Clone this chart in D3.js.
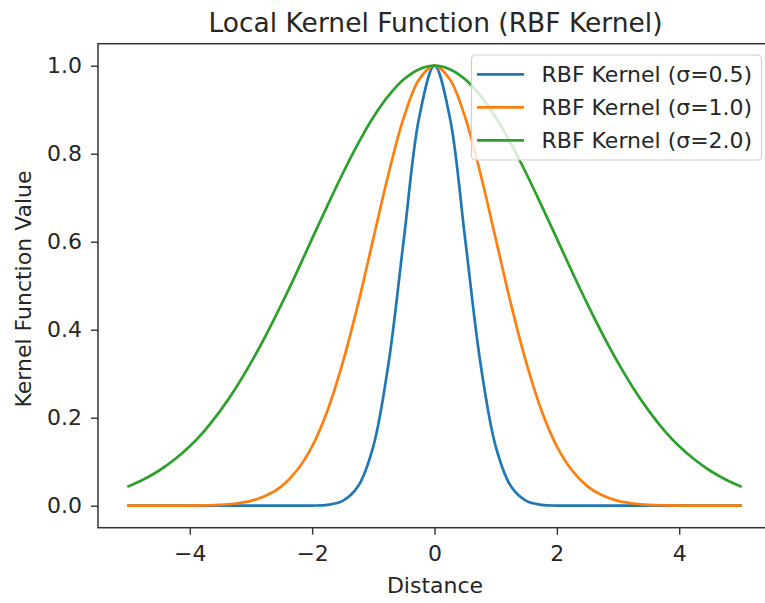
<!DOCTYPE html>
<html>
<head>
<meta charset="utf-8">
<script src="https://cdn.jsdelivr.net/npm/d3@7"></script>
<style>
  html, body { margin: 0; padding: 0; background: #fff; }
  svg { display: block; font-family: "DejaVu Sans", sans-serif; }
</style>
</head>
<body>
<svg id="chart" width="765" height="603"></svg>
<script>
// Sample positions (distance from centre)
const distance = [-5, -4.75, -4.5, -4.25, -4, -3.75, -3.5, -3.25, -3, -2.75, -2.5, -2.25, -2, -1.75, -1.5, -1.25, -1, -0.75, -0.5, -0.25,
  0, 0.25, 0.5, 0.75, 1, 1.25, 1.5, 1.75, 2, 2.25, 2.5, 2.75, 3, 3.25, 3.5, 3.75, 4, 4.25, 4.5, 4.75, 5];

// Kernel values for each bandwidth
const rbfSigma05 = [0, 0, 0, 0, 0, 0, 0, 0, 0, 0, 0, 0, 0.0003, 0.002, 0.011, 0.044, 0.135, 0.325, 0.607, 0.883,
  1, 0.883, 0.607, 0.325, 0.135, 0.044, 0.011, 0.002, 0.0003, 0, 0, 0, 0, 0, 0, 0, 0, 0, 0, 0, 0];
const rbfSigma10 = [0, 0, 0, 0.0001, 0.0003, 0.0009, 0.002, 0.005, 0.011, 0.023, 0.044, 0.080, 0.135, 0.216, 0.325, 0.458, 0.607, 0.755, 0.883, 0.969,
  1, 0.969, 0.883, 0.755, 0.607, 0.458, 0.325, 0.216, 0.135, 0.080, 0.044, 0.023, 0.011, 0.005, 0.002, 0.0009, 0.0003, 0.0001, 0, 0, 0];
const rbfSigma20 = [0.044, 0.060, 0.080, 0.105, 0.135, 0.172, 0.216, 0.267, 0.325, 0.389, 0.458, 0.531, 0.607, 0.682, 0.755, 0.823, 0.883, 0.932, 0.969, 0.992,
  1, 0.992, 0.969, 0.932, 0.883, 0.823, 0.755, 0.682, 0.607, 0.531, 0.458, 0.389, 0.325, 0.267, 0.216, 0.172, 0.135, 0.105, 0.080, 0.060, 0.044];

const seriesNames = ["RBF Kernel (σ=0.5)", "RBF Kernel (σ=1.0)", "RBF Kernel (σ=2.0)"];
const seriesValues = [rbfSigma05, rbfSigma10, rbfSigma20];
const seriesColors = ["#1f77b4", "#ff7f0e", "#2ca02c"];

const xTicks = [-4, -2, 0, 2, 4];
const yTicks = [0.0, 0.2, 0.4, 0.6, 0.8, 1.0];

const titleText = "Local Kernel Function (RBF Kernel)";
const xLabel = "Distance";
const yLabel = "Kernel Function Value";

// Layout
const plot = { left: 98, right: 771, top: 43.7, bottom: 527.7 };
const svg = d3.select("#chart");

const x = d3.scaleLinear().domain([-5.5, 5.5]).range([plot.left, plot.right]);
const y = d3.scaleLinear().domain([-0.05, 1.05]).range([plot.bottom, plot.top]);

svg.append("defs").append("clipPath").attr("id", "plot-clip")
  .append("rect")
  .attr("x", plot.left).attr("y", plot.top)
  .attr("width", plot.right - plot.left).attr("height", plot.bottom - plot.top);

// Curves
const line = d3.line()
  .x((d, i) => x(distance[i]))
  .y(d => y(d))
  .curve(d3.curveCatmullRom.alpha(0.5));

const lines = svg.append("g").attr("clip-path", "url(#plot-clip)");
seriesValues.forEach((vals, k) => {
  lines.append("path")
    .datum(vals)
    .attr("d", line)
    .attr("fill", "none")
    .attr("stroke", seriesColors[k])
    .attr("stroke-width", 2.7)
    .attr("stroke-linejoin", "round")
    .attr("stroke-linecap", "square");
});

// Axes
const fontSize = 22;
const textColor = "#262626";
const xAxis = svg.append("g")
  .attr("transform", `translate(0,${plot.bottom})`)
  .call(d3.axisBottom(x).tickValues(xTicks).tickSize(7).tickPadding(11)
    .tickFormat(d => d3.format("d")(d).replace("-", "\u2212")));
const yAxis = svg.append("g")
  .attr("transform", `translate(${plot.left},0)`)
  .call(d3.axisLeft(y).tickValues(yTicks).tickSize(7).tickPadding(9)
    .tickFormat(d3.format(".1f")));

[xAxis, yAxis].forEach(g => {
  g.select(".domain").remove();
  g.selectAll(".tick line").attr("stroke", "#333").attr("stroke-width", 1.4);
  g.selectAll(".tick text").attr("fill", textColor)
    .style("font-size", fontSize + "px")
    .style("font-family", "DejaVu Sans, sans-serif");
});

// Frame
svg.append("rect")
  .attr("x", plot.left).attr("y", plot.top)
  .attr("width", plot.right - plot.left).attr("height", plot.bottom - plot.top)
  .attr("fill", "none")
  .attr("stroke", "#333")
  .attr("stroke-width", 1.5);

// Title and axis labels
svg.append("text")
  .attr("x", 435.5)
  .attr("y", 32)
  .attr("text-anchor", "middle")
  .attr("fill", textColor)
  .style("font-size", "26.5px")
  .text(titleText);

svg.append("text")
  .attr("x", 435)
  .attr("y", 593)
  .attr("text-anchor", "middle")
  .attr("fill", textColor)
  .style("font-size", fontSize + "px")
  .text(xLabel);

svg.append("text")
  .attr("transform", `translate(31,289) rotate(-90)`)
  .attr("text-anchor", "middle")
  .attr("fill", textColor)
  .style("font-size", fontSize + "px")
  .text(yLabel);

// Legend
const legend = svg.append("g");
legend.append("rect")
  .attr("x", 471.5).attr("y", 55)
  .attr("width", 290).attr("height", 105)
  .attr("rx", 4)
  .attr("fill", "#fff").attr("fill-opacity", 0.8)
  .attr("stroke", "#d0d0d0").attr("stroke-width", 1.2);

seriesNames.forEach((name, k) => {
  const ly = 74.3 + k * 33;
  legend.append("line")
    .attr("x1", 477).attr("x2", 524)
    .attr("y1", ly).attr("y2", ly)
    .attr("stroke", seriesColors[k])
    .attr("stroke-width", 2.7);
  legend.append("text")
    .attr("x", 541.5).attr("y", ly)
    .attr("dy", "0.36em")
    .attr("fill", textColor)
    .style("font-size", fontSize + "px")
    .text(name);
});
</script>
</body>
</html>
